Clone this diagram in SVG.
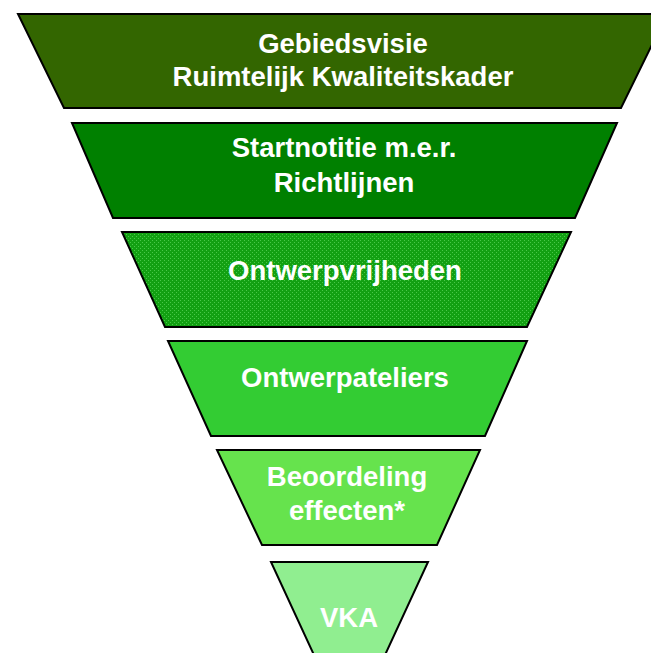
<svg xmlns="http://www.w3.org/2000/svg" width="651" height="653" viewBox="0 0 651 653">
<defs>
<pattern id="dots" width="4" height="4" patternUnits="userSpaceOnUse">
<rect width="4" height="4" fill="#12a012"/>
<rect x="0" y="0" width="1" height="1" fill="#48c848"/>
<rect x="2" y="2" width="1" height="1" fill="#48c848"/>
</pattern>
</defs>
<style>
.s{stroke:#000;stroke-width:2;stroke-linejoin:miter}
.t{font-family:"Liberation Sans",Arial,sans-serif;font-weight:bold;font-size:27.5px;fill:#fff;text-anchor:middle}
</style>
<rect width="651" height="653" fill="#fff"/>
<g id="n1">
<polygon class="s" points="18,14 667,14 621,108 64,108" fill="#336600"/>
<text class="t" x="343" y="53">Gebiedsvisie</text>
<text class="t" x="343" y="86">Ruimtelijk Kwaliteitskader</text>
</g>
<g id="n2">
<polygon class="s" points="72,123 617,123 575,218 113,218" fill="#008000"/>
<text class="t" x="344" y="157">Startnotitie m.e.r.</text>
<text class="t" x="344" y="192">Richtlijnen</text>
</g>
<g id="n3">
<polygon class="s" points="122,232 571,232 527,327 165,327" fill="url(#dots)"/>
<text class="t" x="345" y="280">Ontwerpvrijheden</text>
</g>
<g id="n4">
<polygon class="s" points="168,341 527,341 485,436 211,436" fill="#33cc33"/>
<text class="t" x="345" y="387">Ontwerpateliers</text>
</g>
<g id="n5">
<polygon class="s" points="217,450 480,450 437,545 262,545" fill="#66e34d"/>
<text class="t" x="347" y="486">Beoordeling</text>
<text class="t" x="347" y="520">effecten*</text>
</g>
<g id="n6">
<polygon class="s" points="271,562 428,562 385,655 314,655" fill="#90ee90"/>
<text class="t" x="349" y="627">VKA</text>
</g>
<g id="connectors"></g>
</svg>
